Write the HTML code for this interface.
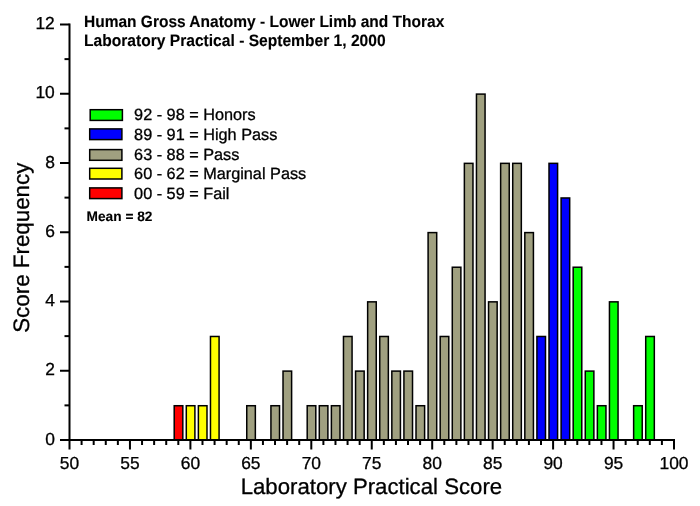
<!DOCTYPE html>
<html lang="en"><head><meta charset="utf-8"><title>Laboratory Practical Score Histogram</title>
<style>html,body{margin:0;padding:0;background:#fff;}body{width:700px;height:506px;overflow:hidden;}svg{display:block;}text{text-rendering:geometricPrecision;font-family:"Liberation Sans",Arial,Helvetica,sans-serif;fill:#000;stroke:#000;stroke-width:0.3px;}.b{font-weight:bold;stroke-width:0.12px;}</style></head><body>
<svg width="700" height="506" viewBox="0 0 700 506">
<rect width="700" height="506" fill="#ffffff"/>
<g stroke="#000" stroke-width="1.5">
<rect x="174.21" y="405.73" width="8.60" height="34.27" fill="#ff0000"/>
<rect x="186.30" y="405.73" width="8.60" height="34.27" fill="#ffff00"/>
<rect x="198.39" y="405.73" width="8.60" height="34.27" fill="#ffff00"/>
<rect x="210.48" y="336.48" width="8.60" height="103.52" fill="#ffff00"/>
<rect x="246.75" y="405.73" width="8.60" height="34.27" fill="#a0a080"/>
<rect x="270.93" y="405.73" width="8.60" height="34.27" fill="#a0a080"/>
<rect x="283.02" y="371.10" width="8.60" height="68.90" fill="#a0a080"/>
<rect x="307.20" y="405.73" width="8.60" height="34.27" fill="#a0a080"/>
<rect x="319.29" y="405.73" width="8.60" height="34.27" fill="#a0a080"/>
<rect x="331.38" y="405.73" width="8.60" height="34.27" fill="#a0a080"/>
<rect x="343.47" y="336.48" width="8.60" height="103.52" fill="#a0a080"/>
<rect x="355.56" y="371.10" width="8.60" height="68.90" fill="#a0a080"/>
<rect x="367.65" y="301.85" width="8.60" height="138.15" fill="#a0a080"/>
<rect x="379.74" y="336.48" width="8.60" height="103.52" fill="#a0a080"/>
<rect x="391.83" y="371.10" width="8.60" height="68.90" fill="#a0a080"/>
<rect x="403.92" y="371.10" width="8.60" height="68.90" fill="#a0a080"/>
<rect x="416.01" y="405.73" width="8.60" height="34.27" fill="#a0a080"/>
<rect x="428.10" y="232.60" width="8.60" height="207.40" fill="#a0a080"/>
<rect x="440.19" y="336.48" width="8.60" height="103.52" fill="#a0a080"/>
<rect x="452.28" y="267.23" width="8.60" height="172.77" fill="#a0a080"/>
<rect x="464.37" y="163.35" width="8.60" height="276.65" fill="#a0a080"/>
<rect x="476.46" y="94.10" width="8.60" height="345.90" fill="#a0a080"/>
<rect x="488.55" y="301.85" width="8.60" height="138.15" fill="#a0a080"/>
<rect x="500.64" y="163.35" width="8.60" height="276.65" fill="#a0a080"/>
<rect x="512.73" y="163.35" width="8.60" height="276.65" fill="#a0a080"/>
<rect x="524.82" y="232.60" width="8.60" height="207.40" fill="#a0a080"/>
<rect x="536.91" y="336.48" width="8.60" height="103.52" fill="#0000ff"/>
<rect x="549.00" y="163.35" width="8.60" height="276.65" fill="#0000ff"/>
<rect x="561.09" y="197.97" width="8.60" height="242.03" fill="#0000ff"/>
<rect x="573.18" y="267.23" width="8.60" height="172.77" fill="#00ff00"/>
<rect x="585.27" y="371.10" width="8.60" height="68.90" fill="#00ff00"/>
<rect x="597.36" y="405.73" width="8.60" height="34.27" fill="#00ff00"/>
<rect x="609.45" y="301.85" width="8.60" height="138.15" fill="#00ff00"/>
<rect x="633.63" y="405.73" width="8.60" height="34.27" fill="#00ff00"/>
<rect x="645.72" y="336.48" width="8.60" height="103.52" fill="#00ff00"/>
</g>
<g stroke="#000" stroke-width="2" fill="none">
<path d="M69.50 23.50 V449.50"/>
<path d="M60.00 440.00 H675.00"/>
<path d="M81.59 440.00 v5.0"/>
<path d="M93.68 440.00 v5.0"/>
<path d="M105.77 440.00 v5.0"/>
<path d="M117.86 440.00 v5.0"/>
<path d="M129.95 440.00 v9.5"/>
<path d="M142.04 440.00 v5.0"/>
<path d="M154.13 440.00 v5.0"/>
<path d="M166.22 440.00 v5.0"/>
<path d="M178.31 440.00 v5.0"/>
<path d="M190.40 440.00 v9.5"/>
<path d="M202.49 440.00 v5.0"/>
<path d="M214.58 440.00 v5.0"/>
<path d="M226.67 440.00 v5.0"/>
<path d="M238.76 440.00 v5.0"/>
<path d="M250.85 440.00 v9.5"/>
<path d="M262.94 440.00 v5.0"/>
<path d="M275.03 440.00 v5.0"/>
<path d="M287.12 440.00 v5.0"/>
<path d="M299.21 440.00 v5.0"/>
<path d="M311.30 440.00 v9.5"/>
<path d="M323.39 440.00 v5.0"/>
<path d="M335.48 440.00 v5.0"/>
<path d="M347.57 440.00 v5.0"/>
<path d="M359.66 440.00 v5.0"/>
<path d="M371.75 440.00 v9.5"/>
<path d="M383.84 440.00 v5.0"/>
<path d="M395.93 440.00 v5.0"/>
<path d="M408.02 440.00 v5.0"/>
<path d="M420.11 440.00 v5.0"/>
<path d="M432.20 440.00 v9.5"/>
<path d="M444.29 440.00 v5.0"/>
<path d="M456.38 440.00 v5.0"/>
<path d="M468.47 440.00 v5.0"/>
<path d="M480.56 440.00 v5.0"/>
<path d="M492.65 440.00 v9.5"/>
<path d="M504.74 440.00 v5.0"/>
<path d="M516.83 440.00 v5.0"/>
<path d="M528.92 440.00 v5.0"/>
<path d="M541.01 440.00 v5.0"/>
<path d="M553.10 440.00 v9.5"/>
<path d="M565.19 440.00 v5.0"/>
<path d="M577.28 440.00 v5.0"/>
<path d="M589.37 440.00 v5.0"/>
<path d="M601.46 440.00 v5.0"/>
<path d="M613.55 440.00 v9.5"/>
<path d="M625.64 440.00 v5.0"/>
<path d="M637.73 440.00 v5.0"/>
<path d="M649.82 440.00 v5.0"/>
<path d="M661.91 440.00 v5.0"/>
<path d="M674.00 440.00 v9.5"/>
<path d="M69.50 405.38 h-5.0"/>
<path d="M69.50 370.75 h-9.5"/>
<path d="M69.50 336.12 h-5.0"/>
<path d="M69.50 301.50 h-9.5"/>
<path d="M69.50 266.88 h-5.0"/>
<path d="M69.50 232.25 h-9.5"/>
<path d="M69.50 197.62 h-5.0"/>
<path d="M69.50 163.00 h-9.5"/>
<path d="M69.50 128.38 h-5.0"/>
<path d="M69.50 93.75 h-9.5"/>
<path d="M69.50 59.12 h-5.0"/>
<path d="M69.50 24.50 h-9.5"/>
</g>
<g font-size="17.4" text-anchor="middle">
<text x="69.50" y="469.3">50</text>
<text x="129.95" y="469.3">55</text>
<text x="190.40" y="469.3">60</text>
<text x="250.85" y="469.3">65</text>
<text x="311.30" y="469.3">70</text>
<text x="371.75" y="469.3">75</text>
<text x="432.20" y="469.3">80</text>
<text x="492.65" y="469.3">85</text>
<text x="553.10" y="469.3">90</text>
<text x="613.55" y="469.3">95</text>
<text x="674.00" y="469.3">100</text>
</g>
<g font-size="17.4" text-anchor="end">
<text x="54.8" y="444.70">0</text>
<text x="54.8" y="375.45">2</text>
<text x="54.8" y="306.20">4</text>
<text x="54.8" y="236.95">6</text>
<text x="54.8" y="167.70">8</text>
<text x="54.8" y="98.45">10</text>
<text x="54.8" y="29.20">12</text>
</g>
<text x="371.4" y="493.5" font-size="22.2" text-anchor="middle">Laboratory Practical Score</text>
<text transform="translate(29.2 247.7) rotate(-90)" font-size="22.35" text-anchor="middle">Score Frequency</text>
<text class="b" transform="translate(84 26.6) scale(1 1.06)" font-size="15.5">Human Gross Anatomy - Lower Limb and Thorax</text>
<text class="b" transform="translate(84 46.3) scale(1 1.06)" font-size="15.6">Laboratory Practical - September 1, 2000</text>
<rect x="90.20" y="109.70" width="32.2" height="10.7" fill="#00ff00" stroke="#000" stroke-width="1.5"/>
<text x="134.1" y="120.30" font-size="16.25">92 - 98 = Honors</text>
<rect x="89.70" y="128.90" width="32.2" height="10.7" fill="#0000ff" stroke="#000" stroke-width="1.5"/>
<text x="134.1" y="139.92" font-size="16.25">89 - 91 = High Pass</text>
<rect x="89.70" y="149.60" width="32.2" height="10.7" fill="#a0a080" stroke="#000" stroke-width="1.5"/>
<text x="134.1" y="159.54" font-size="16.25">63 - 88 = Pass</text>
<rect x="89.70" y="168.30" width="32.2" height="10.7" fill="#ffff00" stroke="#000" stroke-width="1.5"/>
<text x="134.1" y="179.16" font-size="16.25">60 - 62 = Marginal Pass</text>
<rect x="89.70" y="187.90" width="32.2" height="10.7" fill="#ff0000" stroke="#000" stroke-width="1.5"/>
<text x="134.1" y="198.78" font-size="16.25">00 - 59 = Fail</text>
<text class="b" x="86.6" y="221.0" font-size="13.7">Mean = 82</text>
</svg></body></html>
